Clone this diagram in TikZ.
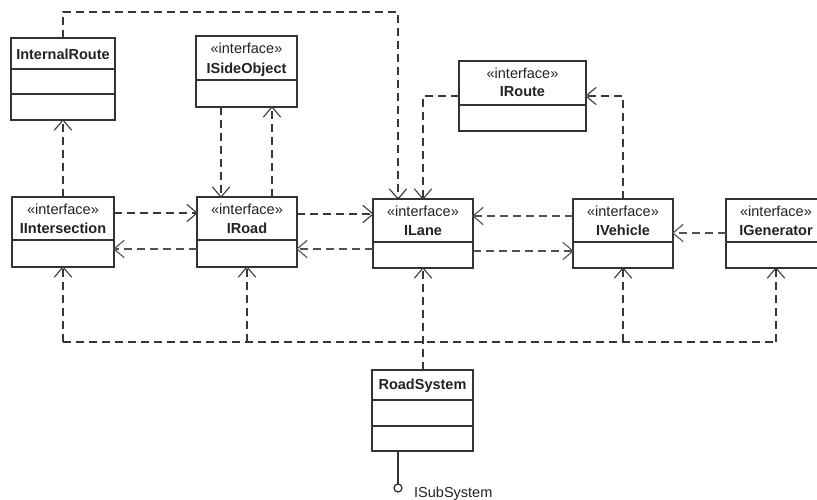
\documentclass[tikz,border=0pt]{standalone}
\usepackage{fontspec}
\setmainfont{Liberation Sans}
\usetikzlibrary{calc,decorations.markings}
\definecolor{boxc}{HTML}{333333}
\definecolor{depc}{HTML}{383838}
\definecolor{depg}{HTML}{505050}
\definecolor{txtc}{HTML}{222222}
\begin{document}
\begin{tikzpicture}[x=1pt,y=-1pt,
  cls/.style={draw=boxc, line width=1.3pt, rectangle, inner sep=0pt, outer sep=0pt},
  sepline/.style={draw=boxc, line width=1.3pt},
  bus/.style={color=depc, line width=1.3pt, dash pattern=on 8pt off 5pt},
  dep/.style={bus, postaction={decorate},
    decoration={markings, mark=at position 1 with {
      \draw[solid, line width=1.1pt, line join=miter, line cap=round] (-10,-8.5) -- (0,0) -- (-10,8.5);}}},
  depl/.style={dep, color=depg, line width=1.4pt},
  st/.style={anchor=base, inner sep=0pt, text=txtc, font=\fontsize{14.5}{17}\selectfont},
  nm/.style={anchor=base, inner sep=0pt, text=txtc, font=\fontsize{14.5}{17}\selectfont\bfseries}]
\useasboundingbox (0,0) rectangle (817,499);
\clip (0,0) rectangle (817,499);

% ---------- classes ----------
\node[cls, minimum width=104pt, minimum height=82pt] (internal) at (63,79) {};
\node[nm] (internalT) at ($(internal.north)+(0,21)$) {InternalRoute};
\draw[sepline] ($(internal.north west)+(0,31)$) -- ($(internal.north east)+(0,31)$);
\draw[sepline] ($(internal.north west)+(0,56)$) -- ($(internal.north east)+(0,56)$);

\node[cls, minimum width=101pt, minimum height=71pt] (iside) at (246.5,71.5) {};
\node[st] (isideS) at ($(iside.north)+(0,17)$) {«interface»};
\node[nm] (isideT) at ($(iside.north)+(0,37)$) {ISideObject};
\draw[sepline] ($(iside.north west)+(0,44)$) -- ($(iside.north east)+(0,44)$);

\node[cls, minimum width=127pt, minimum height=70pt] (iroute) at (522.5,96) {};
\node[st] (irouteS) at ($(iroute.north)+(0,17)$) {«interface»};
\node[nm] (irouteT) at ($(iroute.north)+(0,35)$) {IRoute};
\draw[sepline] ($(iroute.north west)+(0,44)$) -- ($(iroute.north east)+(0,44)$);

\node[cls, minimum width=102pt, minimum height=70pt] (iinter) at (63,232) {};
\node[st] (iinterS) at ($(iinter.north)+(0,17)$) {«interface»};
\node[nm] (iinterT) at ($(iinter.north)+(0,36)$) {IIntersection};
\draw[sepline] ($(iinter.north west)+(0,43)$) -- ($(iinter.north east)+(0,43)$);

\node[cls, minimum width=100pt, minimum height=70pt] (iroad) at (247,232) {};
\node[st] (iroadS) at ($(iroad.north)+(0,17)$) {«interface»};
\node[nm] (iroadT) at ($(iroad.north)+(0,36)$) {IRoad};
\draw[sepline] ($(iroad.north west)+(0,43)$) -- ($(iroad.north east)+(0,43)$);

\node[cls, minimum width=100pt, minimum height=69pt] (ilane) at (423,233.5) {};
\node[st] (ilaneS) at ($(ilane.north)+(0,17)$) {«interface»};
\node[nm] (ilaneT) at ($(ilane.north)+(0,36)$) {ILane};
\draw[sepline] ($(ilane.north west)+(0,43)$) -- ($(ilane.north east)+(0,43)$);

\node[cls, minimum width=100pt, minimum height=69pt] (ivehicle) at (623,233.5) {};
\node[st] (ivehicleS) at ($(ivehicle.north)+(0,17)$) {«interface»};
\node[nm] (ivehicleT) at ($(ivehicle.north)+(0,36)$) {IVehicle};
\draw[sepline] ($(ivehicle.north west)+(0,43)$) -- ($(ivehicle.north east)+(0,43)$);

\node[cls, minimum width=100pt, minimum height=69pt] (igen) at (776,233.5) {};
\node[st] (igenS) at ($(igen.north)+(0,17)$) {«interface»};
\node[nm] (igenT) at ($(igen.north)+(0,36)$) {IGenerator};
\draw[sepline] ($(igen.north west)+(0,43)$) -- ($(igen.north east)+(0,43)$);

\node[cls, minimum width=101pt, minimum height=81pt] (roadsys) at (422.5,410.5) {};
\node[nm] (roadsysT) at ($(roadsys.north)+(0,19)$) {RoadSystem};
\draw[sepline] ($(roadsys.north west)+(0,30)$) -- ($(roadsys.north east)+(0,30)$);
\draw[sepline] ($(roadsys.north west)+(0,56)$) -- ($(roadsys.north east)+(0,56)$);

% ---------- helper coordinates ----------
\coordinate (top) at (398,12);
\coordinate (xA) at (221,0);
\coordinate (xB) at (272,0);
\coordinate (yA) at (0,213);
\coordinate (yB) at (0,249);
\coordinate (yC) at (0,214);
\coordinate (yD) at (0,216);
\coordinate (yE) at (0,251);
\coordinate (yG) at (0,233);
\coordinate (yR) at (0,96);
\coordinate (ybus) at (0,342);

% ---------- dependencies ----------
\draw[dep] (internal.north) |- (top) -- (ilane.north -| top);
\draw[dep] (iinter.north) -- (internal.south);
\draw[dep] (iside.south -| xA) -- (iroad.north -| xA);
\draw[dep] (iroad.north -| xB) -- (iside.south -| xB);
\draw[dep] (iinter.east |- yA) -- (iroad.west |- yA);
\draw[depl] (iroad.west |- yB) -- (iinter.east |- yB);
\draw[dep] (iroad.east |- yC) -- (ilane.west |- yC);
\draw[depl] (ilane.west |- yB) -- (iroad.east |- yB);
\draw[depl] (ivehicle.west |- yD) -- (ilane.east |- yD);
\draw[depl] (ilane.east |- yE) -- (ivehicle.west |- yE);
\draw[dep] (ivehicle.north) |- (iroute.east |- yR);
\draw[dep] (iroute.west |- yR) -| (ilane.north);
\draw[depl] (igen.west |- yG) -- (ivehicle.east |- yG);

% bus from RoadSystem
\draw[bus] (iinter.south |- ybus) -- (igen.south |- ybus);
\draw[dep] (ilane.south |- roadsys.north) -- (ilane.south);
\draw[dep] (iinter.south |- ybus) -- (iinter.south);
\draw[dep] (iroad.south |- ybus) -- (iroad.south);
\draw[dep] (ivehicle.south |- ybus) -- (ivehicle.south);
\draw[dep] (igen.south |- ybus) -- (igen.south);

% lollipop interface
\coordinate (lolly) at (398,484);
\draw[draw=boxc, line width=1.3pt] (roadsys.south -| lolly) -- (lolly);
\draw[draw=boxc, line width=1.3pt] ($(lolly)+(0,4)$) circle[radius=4pt];
\node[anchor=base west, inner sep=0pt, text=txtc, font=\fontsize{14.5}{17}\selectfont] (isub) at (414,497) {ISubSystem};
\end{tikzpicture}
\end{document}
